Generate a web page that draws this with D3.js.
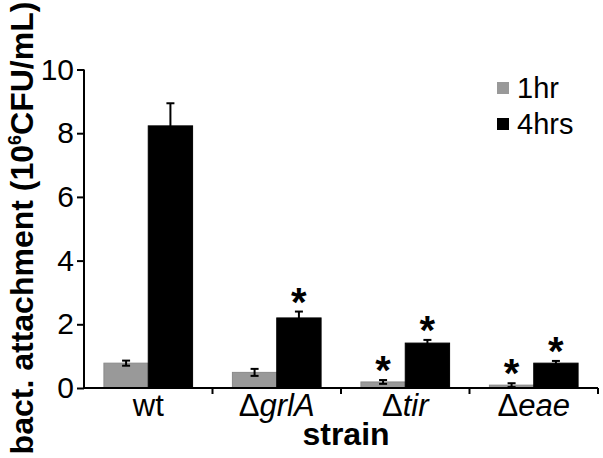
<!DOCTYPE html>
<html>
<head>
<meta charset="utf-8">
<script src="https://cdn.jsdelivr.net/npm/d3@7"></script>
<style>
  body { margin: 0; background: #fff; }
  svg { display: block; font-family: "Liberation Sans", Arial, sans-serif; }
</style>
</head>
<body>
<svg id="chart" width="603" height="458"></svg>
<script>
// Data.
var strains = ['wt', 'grlA', 'tir', 'eae'];
var series = ['1hr', '4hrs'];
var values1hr = [0.78, 0.49, 0.19, 0.09];
var values4hrs = [8.23, 2.2, 1.41, 0.78];
var errors1hr = [0.08, 0.11, 0.06, 0.06];
var errors4hrs = [0.71, 0.2, 0.1, 0.07];
var starred1hr = [false, false, true, true];
var starred4hrs = [false, true, true, true];
var yTicks = [0, 2, 4, 6, 8, 10];

var colors = {'1hr': '#999999', '4hrs': '#000000'};

var svg = d3.select('#chart');

var x0 = d3.scaleBand()
    .domain(strains)
    .range([84, 598])
    .paddingInner(0.31)
    .paddingOuter(0.155);
var x1 = d3.scaleBand()
    .domain(series)
    .range([0, x0.bandwidth()]);
var y = d3.scaleLinear().domain([0, 10]).range([388, 69.5]);

var rows = strains.map(function(s, i) {
  return [
    {strain: s, key: '1hr', value: values1hr[i], err: errors1hr[i], star: starred1hr[i]},
    {strain: s, key: '4hrs', value: values4hrs[i], err: errors4hrs[i], star: starred4hrs[i]}
  ];
});

// Bars.
var groups = svg.selectAll('.group')
    .data(rows)
  .enter().append('g')
    .attr('class', 'group')
    .attr('transform', function(d) { return 'translate(' + x0(d[0].strain) + ',0)'; });

groups.selectAll('rect')
    .data(function(d) { return d; })
  .enter().append('rect')
    .attr('x', function(d) { return x1(d.key); })
    .attr('y', function(d) { return y(d.value); })
    .attr('width', x1.bandwidth())
    .attr('height', function(d) { return y(0) - y(d.value); })
    .style('fill', function(d) { return colors[d.key]; })
    .style('stroke', function(d) { return d.key === '1hr' ? '#8a8a8a' : '#000'; })
    .style('stroke-width', 1);

// Error bars.
var eb = groups.selectAll('.err')
    .data(function(d) { return d; })
  .enter().append('g')
    .attr('class', 'err')
    .attr('transform', function(d) { return 'translate(' + (x1(d.key) + x1.bandwidth() / 2) + ',0)'; });
eb.append('line')
    .attr('y1', function(d) { return y(d.value - d.err); })
    .attr('y2', function(d) { return y(d.value + d.err); })
    .style('stroke', '#000').style('stroke-width', 2);
eb.append('line')
    .attr('x1', -4).attr('x2', 4)
    .attr('y1', function(d) { return y(d.value + d.err); })
    .attr('y2', function(d) { return y(d.value + d.err); })
    .style('stroke', '#000').style('stroke-width', 2);
eb.append('line')
    .attr('x1', -4).attr('x2', 4)
    .attr('y1', function(d) { return y(d.value - d.err); })
    .attr('y2', function(d) { return y(d.value - d.err); })
    .style('stroke', '#000').style('stroke-width', 2);

// Significance stars.
groups.selectAll('.star')
    .data(function(d) { return d.filter(function(e) { return e.star; }); })
  .enter().append('text')
    .attr('class', 'star')
    .attr('x', function(d) { return x1(d.key) + x1.bandwidth() / 2; })
    .attr('y', function(d) { return y(d.value + d.err) + 4; })
    .attr('text-anchor', 'middle')
    .style('font-size', '40px')
    .style('font-weight', 'bold')
    .text('*');

// Y axis.
var yAxis = svg.append('g')
    .attr('transform', 'translate(84,0)')
    .call(d3.axisLeft(y).tickValues(yTicks).tickSize(7).tickPadding(3));
yAxis.select('.domain').style('stroke-width', 2).attr('d', 'M0,' + y(10) + 'V' + y(0));
yAxis.selectAll('.tick line').style('stroke-width', 2);
yAxis.selectAll('.tick text')
    .style('font-size', '30px')
    .style('font-family', '"Liberation Sans", Arial, sans-serif')
    .attr('fill', '#000');

// X axis with boundary ticks.
var xAxisG = svg.append('g');
xAxisG.append('line')
    .attr('x1', 83).attr('x2', 598)
    .attr('y1', y(0)).attr('y2', y(0))
    .style('stroke', '#000').style('stroke-width', 2);
var bounds = strains.map(function(s) { return x0(s) - x0.step() * x0.paddingInner() / 2; })
    .concat([x0.range()[1]]);
xAxisG.selectAll('.bt')
    .data(bounds.slice(1))
  .enter().append('line')
    .attr('x1', function(d) { return d; }).attr('x2', function(d) { return d; })
    .attr('y1', y(0)).attr('y2', y(0) + 6)
    .style('stroke', '#000').style('stroke-width', 2);

var labels = xAxisG.selectAll('.xl')
    .data(strains)
  .enter().append('text')
    .attr('x', function(d) { return x0(d) + x0.bandwidth() / 2; })
    .attr('y', 416)
    .attr('text-anchor', 'middle')
    .style('font-size', '31px');
labels.each(function(d) {
  var t = d3.select(this);
  if (d === 'wt') { t.text('wt'); return; }
  t.append('tspan').text('\u0394');
  t.append('tspan').style('font-style', 'italic').text(d);
});

svg.append('text')
    .attr('x', 346).attr('y', 445)
    .attr('text-anchor', 'middle')
    .style('font-size', '32px')
    .style('font-weight', 'bold')
    .text('strain');

// Y axis title.
var yt = svg.append('text')
    .attr('transform', 'translate(33,228) rotate(-90)')
    .attr('text-anchor', 'middle')
    .style('font-size', '32px')
    .style('font-weight', 'bold');
yt.append('tspan').text('bact. attachment (10');
yt.append('tspan').attr('dy', -12).style('font-size', '18px').text('6');
yt.append('tspan').attr('dy', 12).text('CFU/mL)');

// Legend.
var legend = svg.selectAll('.legend')
    .data(series)
  .enter().append('g')
    .attr('class', 'legend')
    .attr('transform', function(d, i) { return 'translate(497,' + (82 + i * 36) + ')'; });
legend.append('rect')
    .attr('width', 12).attr('height', 12)
    .style('fill', function(d) { return colors[d]; });
legend.append('text')
    .attr('x', 20).attr('y', 16)
    .style('font-size', '29px')
    .text(function(d) { return d; });
</script>
</body>
</html>
